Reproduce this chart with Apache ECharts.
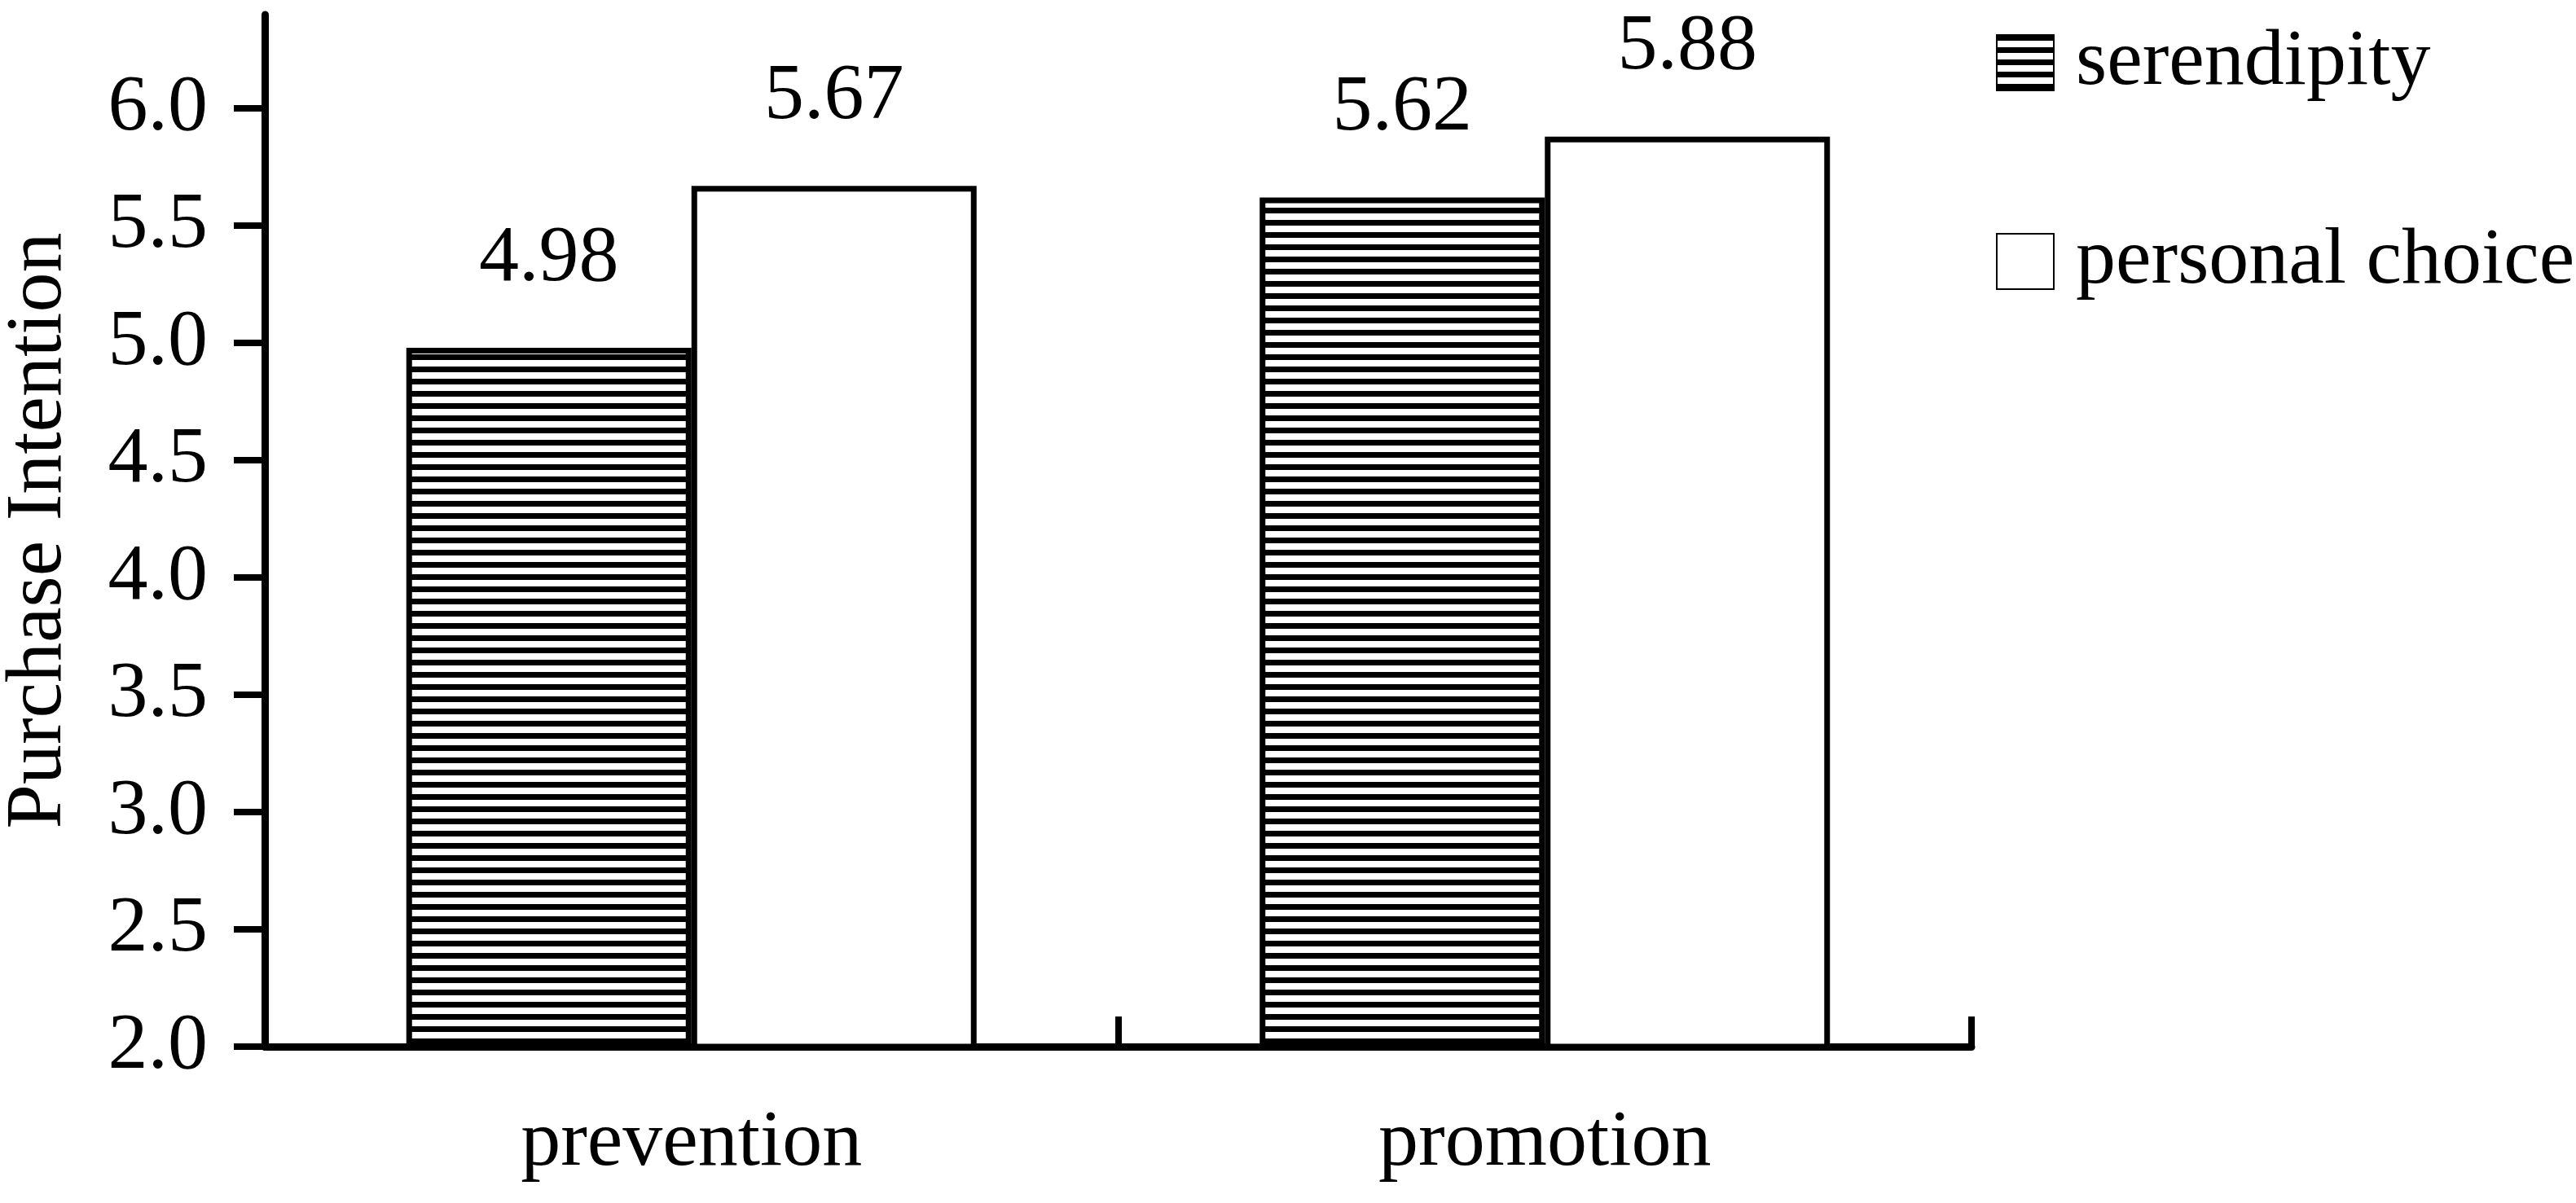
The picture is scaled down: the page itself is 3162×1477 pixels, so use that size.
<!DOCTYPE html>
<html>
<head>
<meta charset="utf-8">
<script src="https://cdn.jsdelivr.net/npm/echarts@6/dist/echarts.min.js"></script>
<style>
  html, body { margin: 0; padding: 0; background: #ffffff; }
  #chart { width: 3162px; height: 1477px; }
</style>
</head>
<body>
<div id="chart"></div>
<script>
const categories = ['prevention', 'promotion'];
const seriesNames = ['serendipity', 'personal choice'];
const serendipity = [4.98, 5.62];
const personalChoice = [5.67, 5.88];
const yTickValues = [2.0, 2.5, 3.0, 3.5, 4.0, 4.5, 5.0, 5.5, 6.0];

const FONT = 'Liberation Serif, Times New Roman, serif';
const FS = 98;

// horizontal stripe pattern
const pc = document.createElement('canvas');
pc.width = 16; pc.height = 15;
const pctx = pc.getContext('2d');
pctx.fillStyle = '#ffffff';
pctx.fillRect(0, 0, 16, 15);
pctx.fillStyle = '#000000';
pctx.fillRect(0, 0, 16, 7);
const stripe = { image: pc, repeat: 'repeat' };

const chart = echarts.init(document.getElementById('chart'), null, { renderer: 'canvas' });

const labelCfg = {
  show: true,
  position: 'top',
  distance: 60,
  color: '#000',
  fontFamily: FONT,
  fontSize: FS,
  formatter: p => p.value.toFixed(2)
};

chart.setOption({
  animation: false,
  backgroundColor: '#ffffff',
  textStyle: { fontFamily: FONT, color: '#000' },
  grid: { left: 325, right: 742, top: 18, bottom: 192, containLabel: false, outerBoundsMode: 'none' },
  legend: {
    orient: 'vertical',
    left: 2445,
    top: 23,
    itemWidth: 70,
    itemHeight: 68,
    itemGap: 146,
    icon: 'rect',
    textStyle: { fontFamily: FONT, fontSize: FS, color: '#000', padding: [0, 0, 0, 22] },
    data: seriesNames
  },
  xAxis: {
    type: 'category',
    data: categories,
    axisLine: { show: true, lineStyle: { color: '#000', width: 9 } },
    axisTick: { show: true, inside: true, length: 37, lineStyle: { color: '#000', width: 8 } },
    axisLabel: { color: '#000', fontFamily: FONT, fontSize: FS, margin: 70 },
    splitLine: { show: false }
  },
  yAxis: {
    type: 'value',
    min: 2,
    max: 6.4,
    interval: 0.5,
    name: 'Purchase Intention',
    nameLocation: 'middle',
    nameGap: 228,
    nameRotate: 90,
    nameTextStyle: { color: '#000', fontFamily: FONT, fontSize: FS },
    axisLine: { show: true, lineStyle: { color: '#000', width: 9 } },
    axisTick: { show: true, inside: false, length: 38, lineStyle: { color: '#000', width: 8 }, customValues: yTickValues },
    axisLabel: {
      color: '#000', fontFamily: FONT, fontSize: FS, margin: 70,
      customValues: yTickValues,
      formatter: v => v.toFixed(1)
    },
    splitLine: { show: false }
  },
  series: [
    {
      name: seriesNames[0],
      type: 'bar',
      data: serendipity,
      barWidth: 350,
      barGap: '0%',
      itemStyle: { color: stripe, borderColor: '#000', borderWidth: 7 },
      label: labelCfg
    },
    {
      name: seriesNames[1],
      type: 'bar',
      data: personalChoice,
      barWidth: 350,
      barGap: '0%',
      itemStyle: { color: '#ffffff', borderColor: '#000', borderWidth: 7 },
      label: labelCfg
    }
  ]
});
</script>
</body>
</html>
